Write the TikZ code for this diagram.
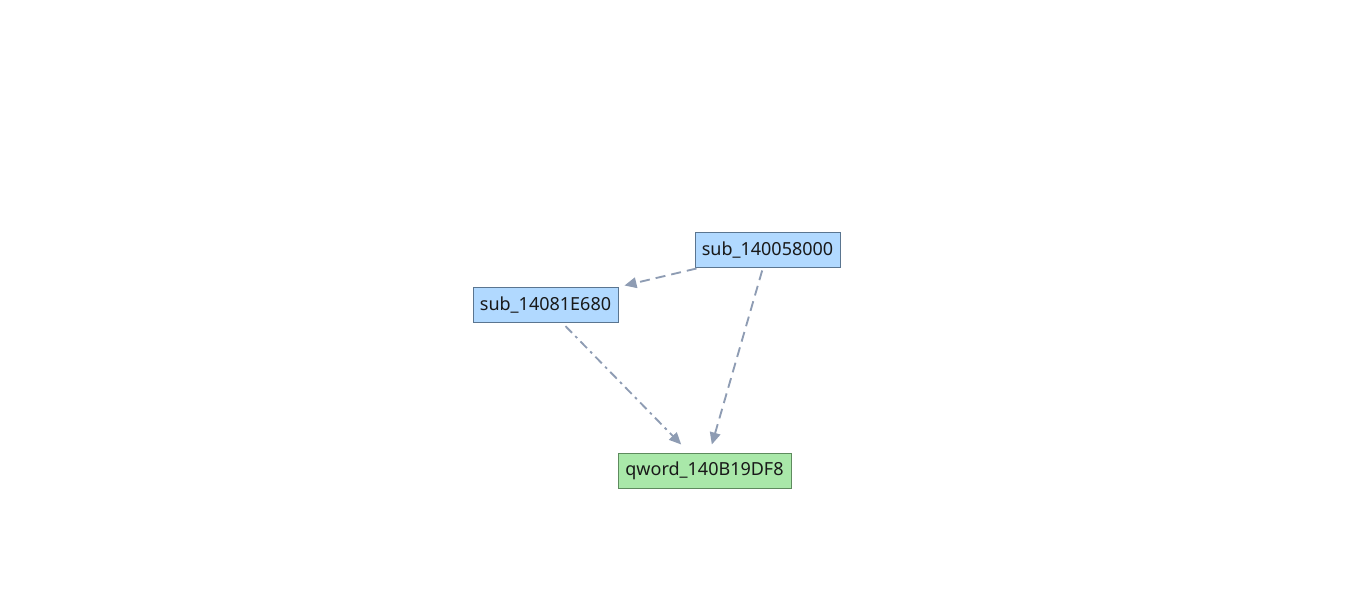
\documentclass[tikz,border=0pt]{standalone}
\usepackage{fontspec}
\setmainfont{Noto Sans}
\usetikzlibrary{arrows.meta}
\definecolor{bluefill}{HTML}{B1D9FF}
\definecolor{blueline}{HTML}{5A7590}
\definecolor{greenfill}{HTML}{A9E8A9}
\definecolor{greenline}{HTML}{5E8B5E}
\definecolor{edgecol}{HTML}{8E9CB3}
\begin{document}
\begin{tikzpicture}[x=0.75pt,y=-0.75pt,
  fnbox/.style={draw=blueline,fill=bluefill,line width=0.75pt,minimum width=108.75pt,minimum height=26.25pt,inner sep=0pt,font=\fontsize{13.5}{16}\selectfont,text=black!90},
  databox/.style={fnbox,draw=greenline,fill=greenfill,minimum width=129.75pt},
  edgebase/.style={draw=edgecol,line width=1.4pt,-{Triangle[length=9pt,width=8pt]}},
  dashedge/.style={edgebase,dash pattern=on 7.5pt off 4.5pt},
  dotedge/.style={edgebase,dash pattern=on 7pt off 3.5pt on 2pt off 3.5pt}]
\useasboundingbox (0,0) rectangle (1351,605);
\node[fnbox] (A) at (767.5,250.5) {sub\_140058000};
\node[fnbox] (B) at (545.5,305.5) {sub\_14081E680};
\node[databox] (C) at (704.5,470.5) {qword\_140B19DF8};
\draw[dashedge] ([xshift=1.5pt]A.south west) -- ([xshift=4.5pt,yshift=1.5pt]B.north east);
\draw[dashedge] ([xshift=-4pt,yshift=-1.5pt]A.south) -- ([xshift=5.5pt,yshift=6pt]C.north);
\draw[dotedge] ([xshift=15pt,yshift=-2pt]B.south) -- ([xshift=-17.5pt,yshift=6pt]C.north);
\end{tikzpicture}
\end{document}
